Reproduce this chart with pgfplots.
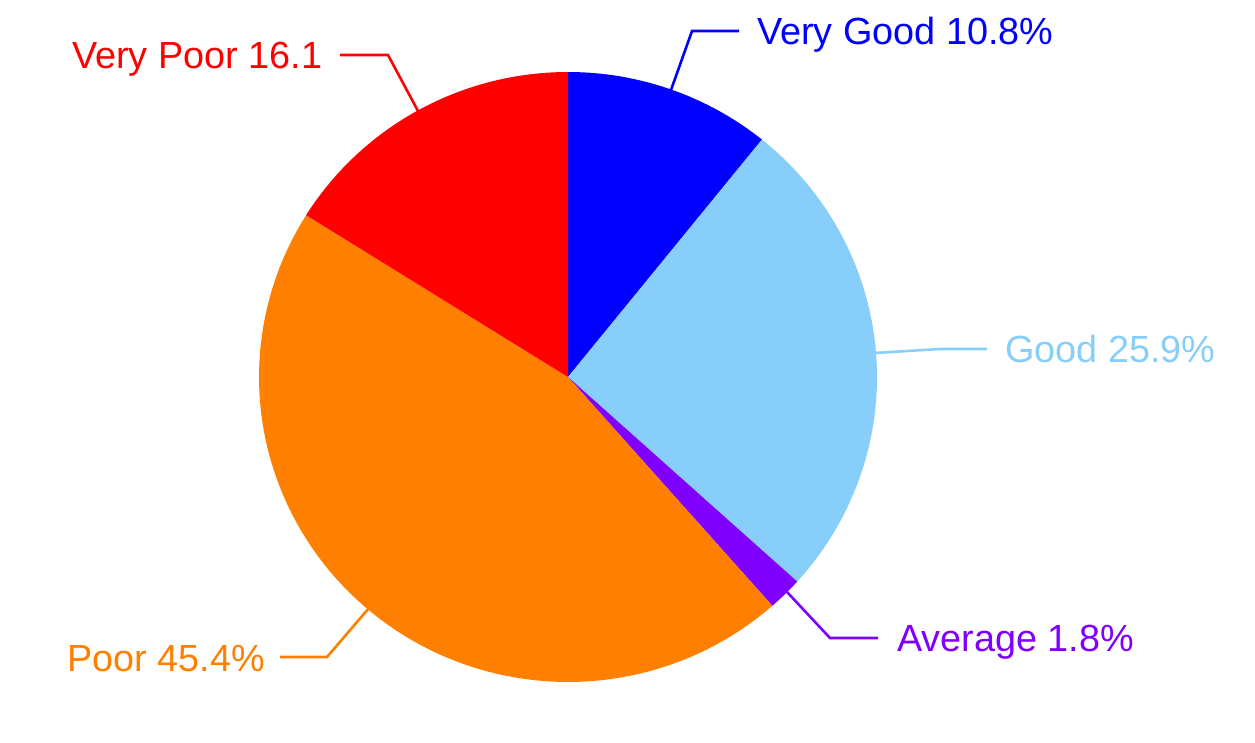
\documentclass[border=0pt]{standalone}
\usepackage{pgfplots}
\usepackage{pgfplotstable}
\pgfplotsset{compat=1.18}
\usepackage{fontspec}
\setmainfont{Liberation Sans}
\definecolor{cVG}{HTML}{0000FF}
\definecolor{cG}{HTML}{87CEFA}
\definecolor{cA}{HTML}{8000FF}
\definecolor{cP}{HTML}{FF8000}
\definecolor{cVP}{HTML}{FF0000}

\tikzset{
  lbl/.style={anchor=base west, inner sep=0pt, font=\fontsize{37.8}{44}\selectfont},
  ld/.style={line width=2.6pt, mark=none},
}

\pgfplotstableread{
label value
VeryGood 10.8
Good 25.9
Average 1.8
Poor 45.4
VeryPoor 16.1
}\piedata

\pgfplotstablegetelem{0}{value}\of\piedata \let\vA\pgfplotsretval
\pgfplotstablegetelem{1}{value}\of\piedata \let\vB\pgfplotsretval
\pgfplotstablegetelem{2}{value}\of\piedata \let\vC\pgfplotsretval
\pgfplotstablegetelem{3}{value}\of\piedata \let\vD\pgfplotsretval
\pgfplotstablegetelem{4}{value}\of\piedata \let\vE\pgfplotsretval
\pgfmathsetmacro\aA{90}
\pgfmathsetmacro\aB{\aA-3.6*\vA}
\pgfmathsetmacro\aC{\aB-3.6*\vB}
\pgfmathsetmacro\aD{\aC-3.6*\vC}
\pgfmathsetmacro\aE{\aD-3.6*\vD}
\pgfmathsetmacro\aF{\aE-3.6*\vE}

\def\cx{568}
\def\cy{377}
\def\Rx{309}
\def\Ry{305}

\begin{document}
\begin{tikzpicture}
\begin{axis}[
  width=1255pt, height=742pt, scale only axis,
  xmin=0, xmax=1255, ymin=0, ymax=742, y dir=reverse,
  hide axis, clip=false,
  every axis plot/.append style={samples=90},
]
\draw[draw=none] (rel axis cs:0,0) rectangle (rel axis cs:1,1);
\addplot[fill=cVG, draw=none, domain=\aB:\aA] ({\cx+\Rx*cos(x)},{\cy-\Ry*sin(x)}) -- (axis cs:\cx,\cy) -- cycle;
\addplot[fill=cG, draw=none, domain=\aC:\aB] ({\cx+\Rx*cos(x)},{\cy-\Ry*sin(x)}) -- (axis cs:\cx,\cy) -- cycle;
\addplot[fill=cA, draw=none, domain=\aD:\aC] ({\cx+\Rx*cos(x)},{\cy-\Ry*sin(x)}) -- (axis cs:\cx,\cy) -- cycle;
\addplot[fill=cP, draw=none, domain=\aE:\aD] ({\cx+\Rx*cos(x)},{\cy-\Ry*sin(x)}) -- (axis cs:\cx,\cy) -- cycle;
\addplot[fill=cVP, draw=none, domain=\aF:\aE] ({\cx+\Rx*cos(x)},{\cy-\Ry*sin(x)}) -- (axis cs:\cx,\cy) -- cycle;

% leader lines
\addplot[ld, cVG] coordinates {(671,90) (692,31) (739,31)};
\addplot[ld, cVP] coordinates {(418,111) (388,55) (340,55)};
\addplot[ld, cG] coordinates {(874,353) (940,349) (987,349)};
\addplot[ld, cA] coordinates {(787,592) (830,638) (878,638)};
\addplot[ld, cP] coordinates {(369,608) (327,657) (280,657)};

% labels
\node[lbl, text=cVG] at (axis cs:757,44) {Very Good 10.8\%};
\node[lbl, text=cVP] at (axis cs:72,68) {Very Poor 16.1};
\node[lbl, text=cG] at (axis cs:1005,362) {Good 25.9\%};
\node[lbl, text=cA] at (axis cs:897,651) {Average 1.8\%};
\node[lbl, text=cP] at (axis cs:67,671) {Poor 45.4\%};
\end{axis}
\end{tikzpicture}
\end{document}
